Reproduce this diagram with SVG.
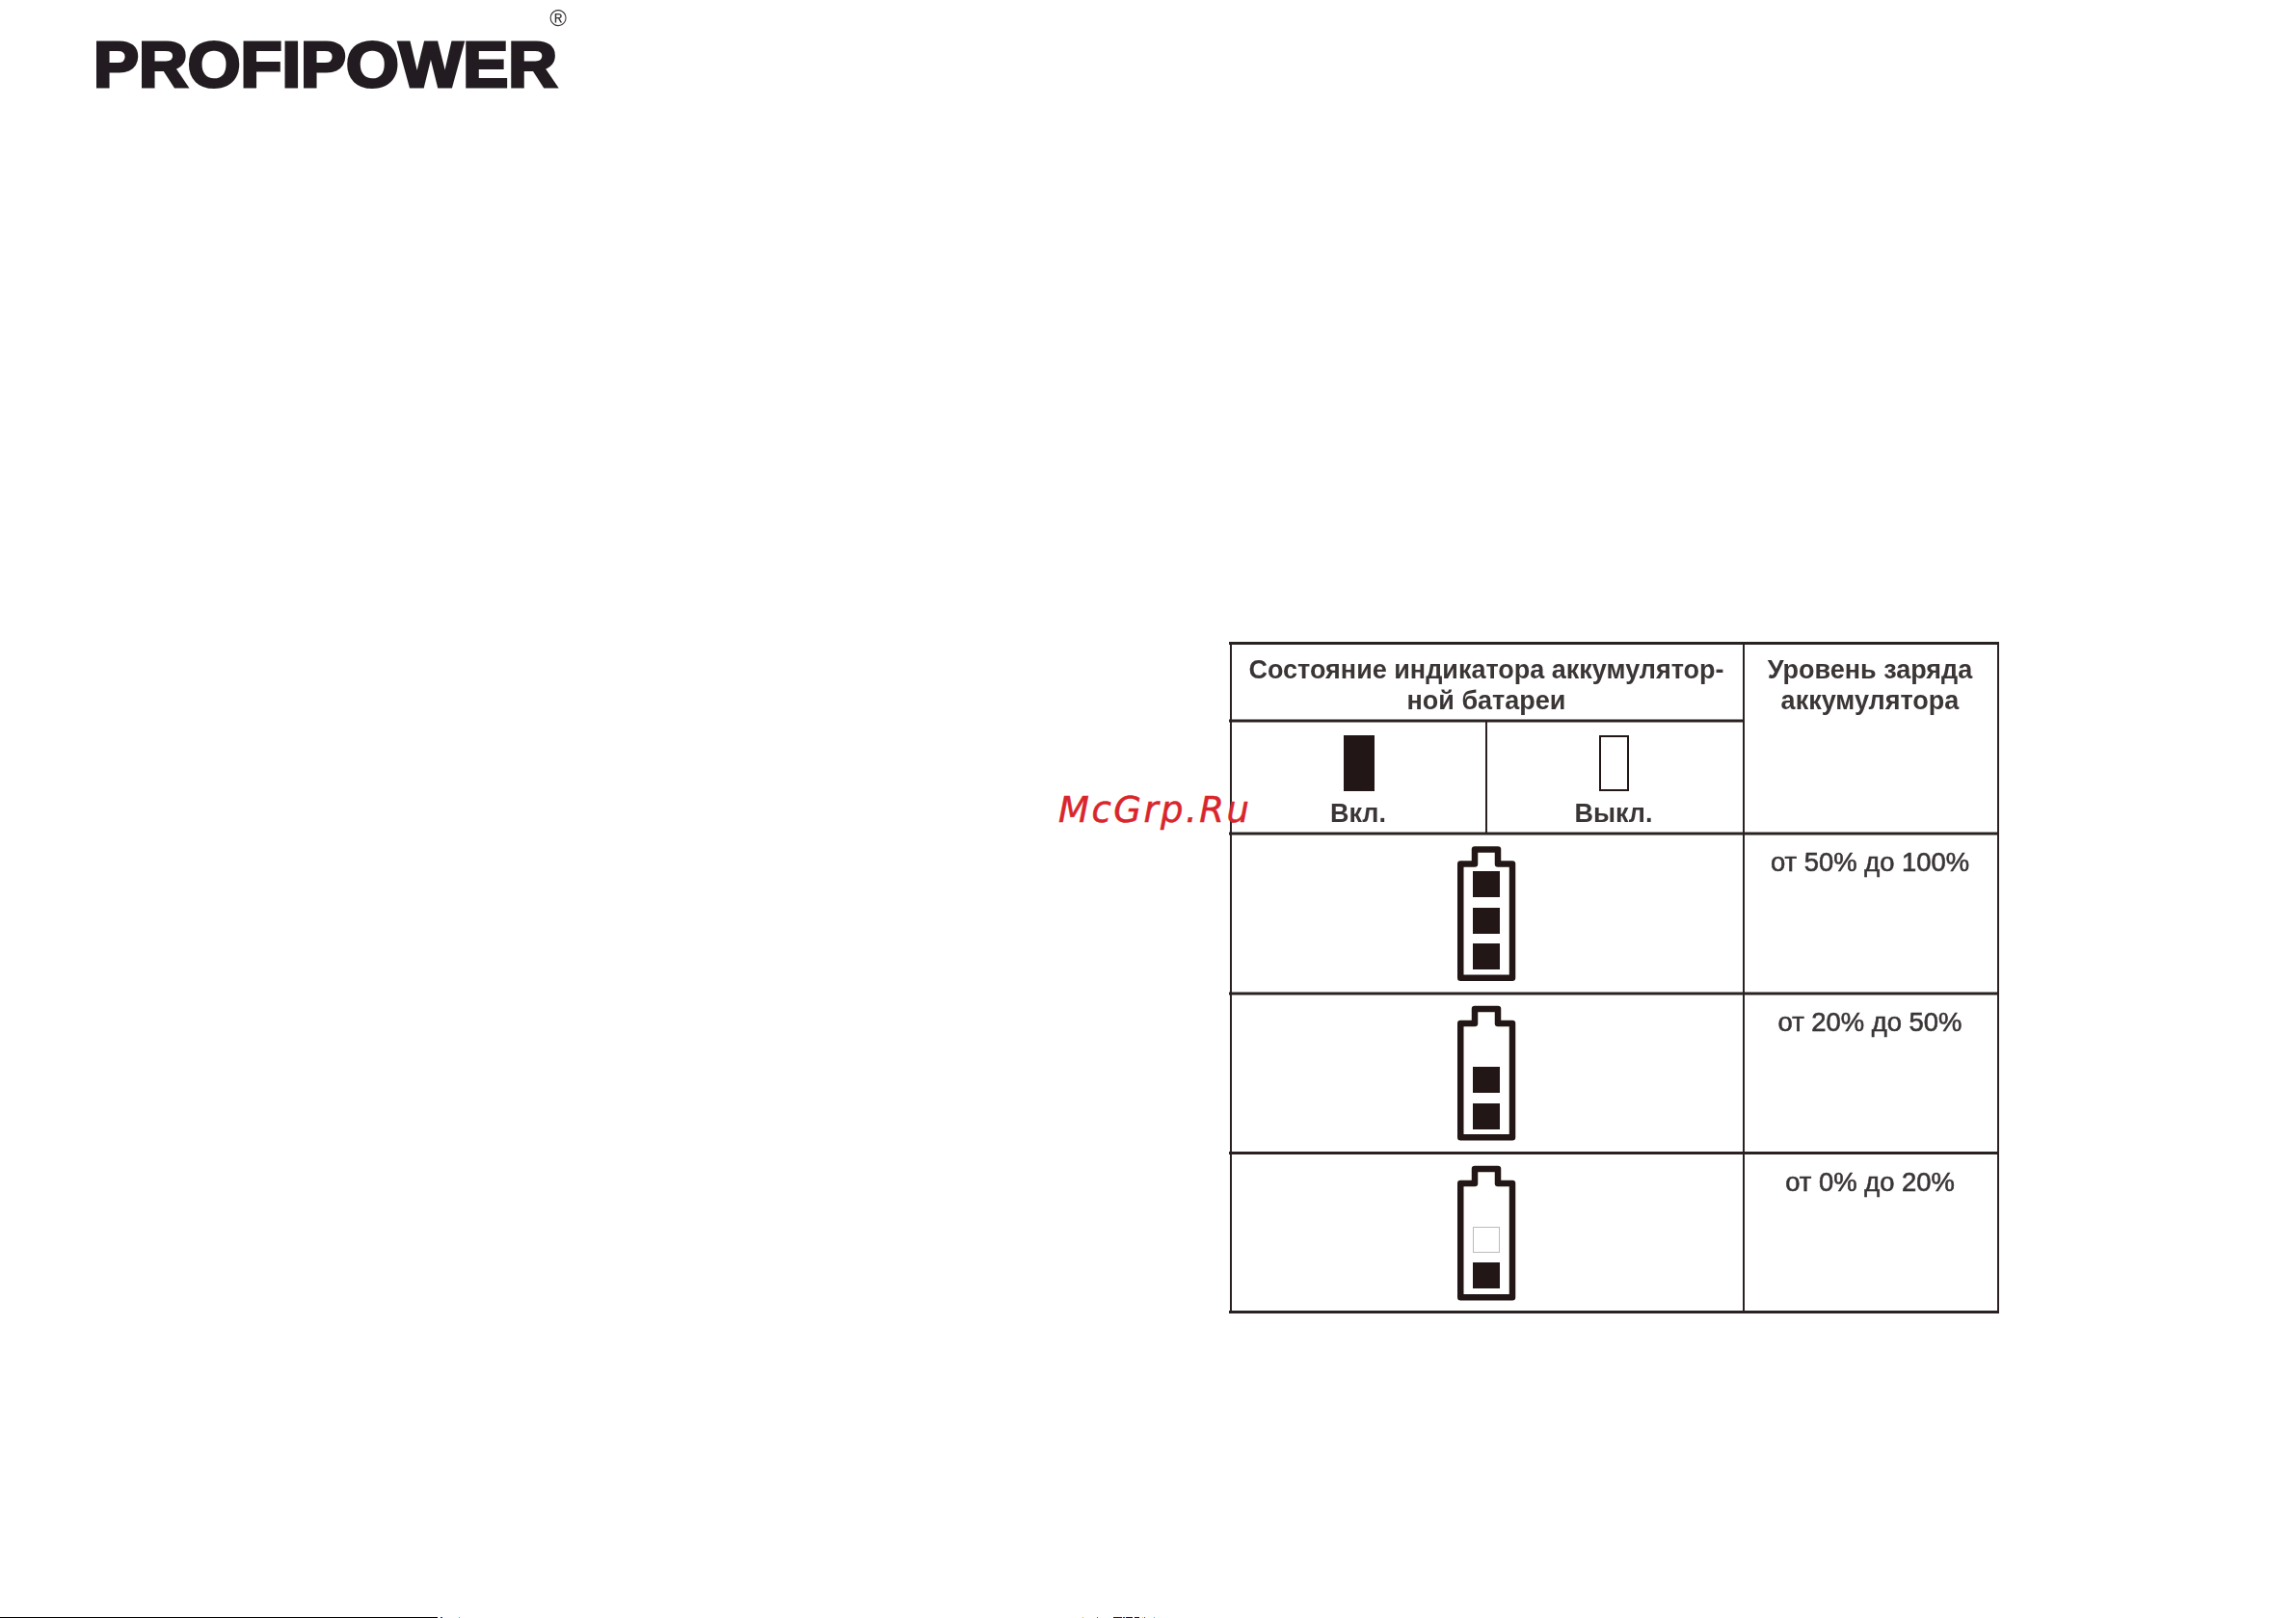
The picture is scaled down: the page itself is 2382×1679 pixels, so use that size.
<svg xmlns="http://www.w3.org/2000/svg" width="2382" height="1679" viewBox="0 0 2382 1679">
<style>
.t{font-family:"Liberation Sans",Arial,sans-serif;fill:#3a3536;text-anchor:middle}
.b{font-weight:700;font-size:27px}
.r{font-size:27.400px;stroke:#3a3536;stroke-width:.6px}
.h{stroke:#2a2223;stroke-width:3;fill:none}
.v{stroke:#2a2223;stroke-width:2;fill:none}
.s{fill:#231815}
.o{fill:none;stroke:#231815;stroke-width:6.500;stroke-linejoin:round}
</style>
<defs>
<filter id="soft" x="-5%" y="-5%" width="110%" height="110%"><feGaussianBlur stdDeviation="0.7"/></filter>
<g id="batt"><path class="o" d="M1515.250 896.500H1530V881.500H1554V896.500H1569V1014.750H1515.250Z"/></g>
</defs>
<rect width="2382" height="1679" fill="#fff"/>
<g id="logo" filter="url(#soft)">
<text x="97" y="89.500" font-family="'Liberation Sans',Arial,sans-serif" font-weight="700" font-size="66" fill="#231f20" stroke="#231f20" stroke-width="3.200" stroke-linejoin="miter" textLength="481" lengthAdjust="spacingAndGlyphs">PROFIPOWER</text>
<text x="579" y="27" font-family="'Liberation Sans',Arial,sans-serif" font-size="24" fill="#3a3536" text-anchor="middle">®</text>
</g>
<g id="table" filter="url(#soft)">
<g id="connectors">
<path class="h" d="M1275 667.500H2074M1275 748H1809M1275 865H2074M1275 1031H2074M1275 1196.500H2074M1275 1361.500H2074"/>
<path class="v" d="M1277 667V1362M1809 667V1362M2073 667V1362M1542 748V865"/>
</g>
<g id="header-state"><text class="t b" x="1542" y="704">Состояние индикатора аккумулятор-</text><text class="t b" x="1542" y="736">ной батареи</text></g>
<g id="header-level"><text class="t b" x="1940" y="704">Уровень заряда</text><text class="t b" x="1940" y="736">аккумулятора</text></g>
<g id="on"><rect class="s" x="1394" y="763" width="32" height="58"/><text class="t b" x="1409" y="853">Вкл.</text></g>
<g id="off"><rect x="1660" y="764" width="29" height="56" fill="none" stroke="#231815" stroke-width="2"/><text class="t b" x="1674" y="853">Выкл.</text></g>
<g id="row-100"><use href="#batt"/><rect class="s" x="1528" y="904" width="28" height="27"/><rect class="s" x="1528" y="942" width="28" height="27"/><rect class="s" x="1528" y="979" width="28" height="27"/><text class="t r" x="1940" y="904">от 50% до 100%</text></g>
<g id="row-50"><use href="#batt" y="165.500"/><rect class="s" x="1528" y="1107" width="28" height="27"/><rect class="s" x="1528" y="1145" width="28" height="27"/><text class="t r" x="1940" y="1070">от 20% до 50%</text></g>
<g id="row-20"><use href="#batt" y="331.500"/><rect x="1528.500" y="1273.500" width="27" height="26" fill="none" stroke="#bbb" stroke-width="1"/><rect class="s" x="1528" y="1310" width="28" height="27"/><text class="t r" x="1940" y="1236">от 0% до 20%</text></g>
</g>
<text id="watermark" x="1098" y="853" font-family="'DejaVu Sans',sans-serif" font-style="oblique" font-size="37" fill="#d9262c" stroke="#d9262c" stroke-width=".5" textLength="198" lengthAdjust="spacing">McGrp.Ru</text>
<g id="edge">
<rect x="0" y="1678" width="454" height="1" fill="#000"/>
<rect x="457" y="1678" width="2" height="1" fill="#22c"/>
<rect x="476" y="1678" width="1" height="1" fill="#2cc"/>
<rect x="1123" y="1678" width="1" height="1" fill="#cc2"/>
<rect x="1138" y="1678" width="1" height="1" fill="#c22"/>
<rect x="1155" y="1678" width="9" height="1" fill="#321"/>
<rect x="1165" y="1678" width="2" height="1" fill="#22c"/>
<rect x="1168" y="1678" width="7" height="1" fill="#213"/>
<rect x="1177" y="1678" width="5" height="1" fill="#312"/>
<rect x="1185" y="1678" width="1" height="1" fill="#cc2"/>
<rect x="1187" y="1678" width="1" height="1" fill="#c22"/>
<rect x="1197" y="1678" width="1" height="1" fill="#2cc"/>
</g>
</svg>
